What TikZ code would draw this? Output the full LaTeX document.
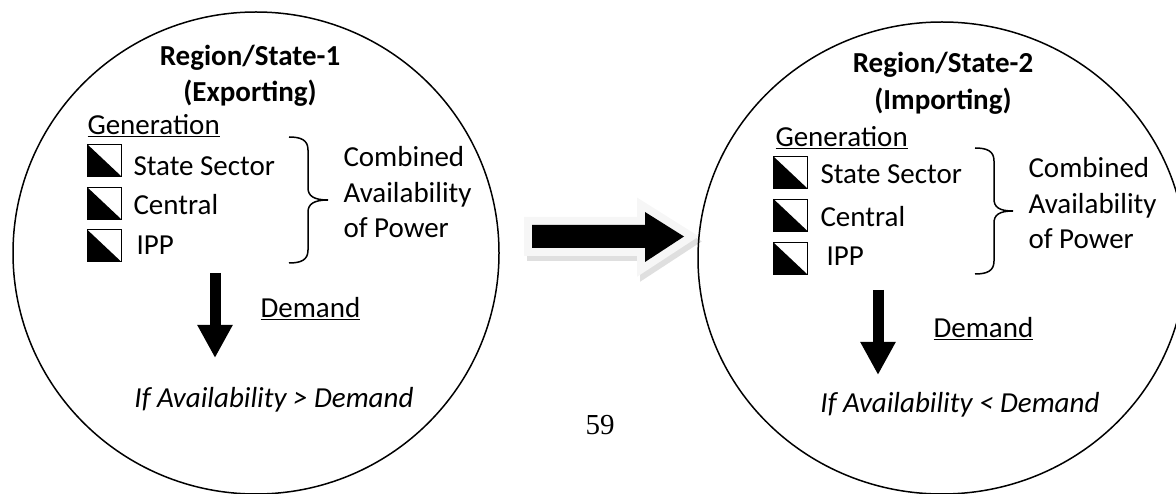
\documentclass[tikz,border=0pt]{standalone}
\usepackage{fontspec}
\setmainfont{Carlito}
\newfontfamily\pagefont{Liberation Serif}
\usetikzlibrary{positioning}
\usetikzlibrary{arrows.meta}

\tikzset{
  region/.style={draw, line width=1.5pt},
  gensq/.style={draw, line width=0.8pt, minimum width=34pt, minimum height=32pt, inner sep=0pt,
    path picture={\fill (path picture bounding box.north west) -- (path picture bounding box.south west)
      -- (path picture bounding box.south east) -- cycle;}},
  txt/.style={inner sep=0pt, font=\fontsize{29}{35.5}\selectfont},
  curly/.style={line width=1.5pt},
  demandarrow/.style={line width=11pt, -{Triangle[width=33pt, length=33pt]}},
}

\begin{document}
\begin{tikzpicture}[x=1pt, y=-1pt, line width=1pt]
    \useasboundingbox (0,0) rectangle (1176,494);

    % Exporting side
    \begin{scope}
        \draw[region] (256,253) ellipse [x radius=243pt, y radius=241pt];

        \node[txt, anchor=north, align=center, font=\fontsize{29}{36}\selectfont\bfseries] (t1) at (250,45) {Region/State-1\\(Exporting)};
        \node[txt, anchor=base west] (g1) at (87,135) {\underline{Generation}};

        \node[gensq] (s11) at (104,160) {};
        \node[gensq] (s12) at (104,203) {};
        \node[gensq] (s13) at (104,245.5) {};
        \node[txt, anchor=base west] (l11) at (133,176) {State Sector};
        \node[txt, anchor=base west] (l12) at (133,215) {Central};
        \node[txt, anchor=base west] (l13) at (136,255) {IPP};

        % curly brace
        \coordinate (br1top) at (289,137);
        \draw[curly] (br1top) .. controls +(12,0) and +(0,-10) .. ++(19,13) -- ++(0,38)
            .. controls +(0,8) and +(-14,0) .. ++(20,12)
            .. controls +(-14,0) and +(0,-8) .. ++(-20,12) -- ++(0,38)
            .. controls +(0,10) and +(12,0) .. ++(-19,13) coordinate (br1bot);
        \node[txt, anchor=north west, align=left] (c1) at (343,146) {Combined\\Availability\\of Power};

        \coordinate (a1top) at (215,273);
        \coordinate (a1tip) at (215,358);
        \draw[demandarrow] (a1top) -- (a1tip);
        \node[txt, anchor=base west] (d1) at (260,318) {\underline{Demand}};

        \node[txt, anchor=base] (f1) at (274,407) {\itshape If Availability > Demand};
    \end{scope}

    % block arrow between the regions
    \begin{scope}[line join=miter, line width=16pt]
        \filldraw[gray!25, shift={(3,5)}] (532,225) -- (645,225) -- (645,212) -- (684,236.5)
            -- (645,262) -- (645,248) -- (532,248) -- cycle;
        \filldraw[gray!7] (532,225) -- (645,225) -- (645,212) -- (684,236.5)
            -- (645,262) -- (645,248) -- (532,248) -- cycle;
        \fill[black] (532,225) -- (645,225) -- (645,212) -- (684,236.5)
            -- (645,262) -- (645,248) -- (532,248) -- cycle;
    \end{scope}

    % Importing side
    \begin{scope}
        \draw[region] (942,258) ellipse [x radius=244pt, y radius=236pt];

        \node[txt, anchor=north, align=center, font=\fontsize{29}{37}\selectfont\bfseries] (t2) at (943,52) {Region/State-2\\(Importing)};
        \node[txt, anchor=base west] (g2) at (775,147) {\underline{Generation}};

        \node[gensq] (s21) at (790.5,172.5) {};
        \node[gensq] (s22) at (790.5,215) {};
        \node[gensq] (s23) at (790.5,258.5) {};
        \node[txt, anchor=base west] (l21) at (820,184) {State Sector};
        \node[txt, anchor=base west] (l22) at (820,227) {Central};
        \node[txt, anchor=base west] (l23) at (826,266) {IPP};

        % curly brace
        \coordinate (br2top) at (975,148);
        \draw[curly] (br2top) .. controls +(12,0) and +(0,-10) .. ++(19,13) -- ++(0,38)
            .. controls +(0,8) and +(-14,0) .. ++(19,12)
            .. controls +(-14,0) and +(0,-8) .. ++(-19,12) -- ++(0,38)
            .. controls +(0,10) and +(12,0) .. ++(-19,13) coordinate (br2bot);
        \node[txt, anchor=north west, align=left] (c2) at (1028,157) {Combined\\Availability\\of Power};

        \coordinate (a2top) at (878,290);
        \coordinate (a2tip) at (878,375);
        \draw[demandarrow] (a2top) -- (a2tip);
        \node[txt, anchor=base west] (d2) at (933,338) {\underline{Demand}};

        \node[txt, anchor=base] (f2) at (960,413) {\itshape If Availability < Demand};
    \end{scope}

    \node[inner sep=0pt, anchor=base, font=\pagefont\fontsize{29}{35}\selectfont] (pg) at (600,435) {59};

\end{tikzpicture}
\end{document}
